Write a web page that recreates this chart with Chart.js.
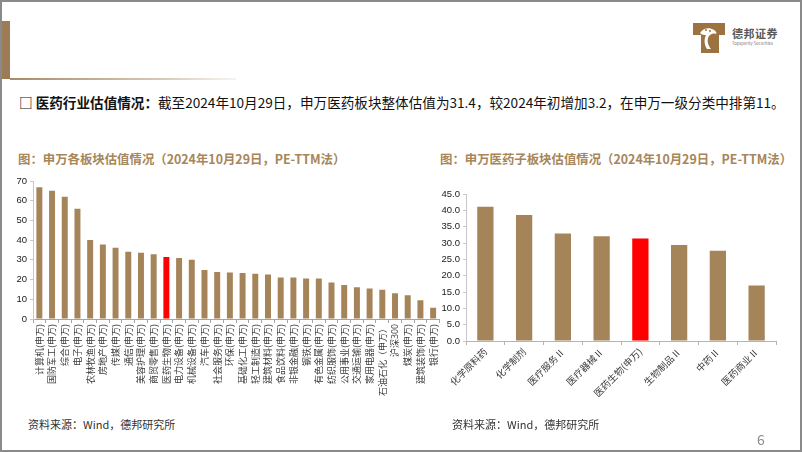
<!DOCTYPE html>
<html>
<head>
<meta charset="utf-8">
<script src="https://cdn.jsdelivr.net/npm/chart.js@4/dist/chart.umd.min.js"></script>
<style>
    body { margin: 0; background: #fff; font-family: "Noto Sans CJK SC", "Liberation Sans", sans-serif; }
    #slide { position: relative; width: 802px; height: 452px; box-sizing: border-box; border: 2px solid #8a8a8a; overflow: hidden; }
    .abs { position: absolute; }
    #side-bar { left: 0; top: 19px; width: 8px; height: 58px; background: #9c7c56; }
    #head-line { left: 8px; top: 76px; width: 226px; height: 2px; background: linear-gradient(to right, #a88a66, #d9ccbb 70%, #f7f4f0); }
    #brand { left: 730px; top: 23px; font-size: 11px; font-weight: bold; color: #595959; letter-spacing: 0.5px; }
    #brand-en { left: 730px; top: 38px; font-size: 6px; color: #777; transform: scale(0.7); transform-origin: left top; white-space: nowrap; }
    #summary { left: 17px; top: 90px; font-size: 13.6px; color: #111; white-space: nowrap; }
    #summary b { font-weight: bold; }
    .title { top: 148px; font-size: 12.4px; font-weight: bold; color: #a6865a; white-space: nowrap; }
    .source { top: 414px; font-size: 11px; color: #333; white-space: nowrap; }
    #page-no { left: 755px; top: 427px; font-size: 14px; color: #8c8c8c; }
    canvas { position: absolute; }
</style>
</head>
<body>
<div id="slide">
    <div class="abs" id="side-bar"></div>
    <div class="abs" id="head-line"></div>
    <svg class="abs" style="left:690px;top:20px" width="34" height="32" viewBox="0 0 34 32">
        <path d="M1 1 H33 V13 H27 V31 H9 V13 H1 Z" fill="#9c7340"/>
        <path d="M8 11 C11 6 17 5 22 8 C24 9 25 11 24 12 C21 11 19 12 17 14 C15 17 15 22 19 27 L15 27 C12 22 12 17 14 13 C12 13 10 13 8 11 Z" fill="#fff"/>
        <circle cx="5" cy="17" r="1.3" fill="#fff"/>
        <circle cx="14" cy="8" r="1" fill="#9c7340"/>
        <circle cx="18" cy="9" r="1" fill="#9c7340"/>
    </svg>
    <div class="abs" id="brand">德邦证券</div>
    <div class="abs" id="brand-en">Topsperity Securities</div>
    <div class="abs" id="summary"><b>□ 医药行业估值情况：</b>截至2024年10月29日，申万医药板块整体估值为31.4，较2024年初增加3.2，在申万一级分类中排第11。</div>
    <div class="abs title" style="left:16px">图：申万各板块估值情况（2024年10月29日，PE-TTM法）</div>
    <div class="abs title" style="left:438px">图：申万医药子板块估值情况（2024年10月29日，PE-TTM法）</div>
    <canvas id="left-chart" width="445" height="226" style="left:-2px;top:168px"></canvas>
    <canvas id="right-chart" width="372" height="220" style="left:428px;top:178px"></canvas>
    <div class="abs source" style="left:26px">资料来源：Wind，德邦研究所</div>
    <div class="abs source" style="left:450px">资料来源：Wind，德邦研究所</div>
    <div class="abs" id="page-no">6</div>
</div>
<script>
var sectorLabels = ['计算机(申万)', '国防军工(申万)', '综合(申万)', '电子(申万)', '农林牧渔(申万)', '房地产(申万)', '传媒(申万)', '通信(申万)',
    '美容护理(申万)', '商贸零售(申万)', '医药生物(申万)', '电力设备(申万)', '机械设备(申万)', '汽车(申万)', '社会服务(申万)', '环保(申万)',
    '基础化工(申万)', '轻工制造(申万)', '建筑材料(申万)', '食品饮料(申万)', '非银金融(申万)', '钢铁(申万)', '有色金属(申万)', '纺织服饰(申万)',
    '公用事业(申万)', '交通运输(申万)', '家用电器(申万)', '石油石化（申万）', '沪深300', '煤炭(申万)', '建筑装饰(申万)', '银行(申万)'];
var sectorPE = [66.8, 65.1, 62.0, 55.9, 40.1, 37.8, 36.1, 34.1, 33.6, 32.8, 31.4, 31.0, 30.1, 24.8, 23.8, 23.6, 23.3, 23.0, 22.6,
    21.0, 21.0, 20.6, 20.5, 18.5, 17.3, 16.1, 15.5, 14.8, 13.0, 12.0, 9.5, 5.7];
var sectorTicks = [0, 10, 20, 30, 40, 50, 60, 70];

var subLabels = ['化学原料药', '化学制剂', '医疗服务Ⅱ', '医疗器械Ⅱ', '医药生物(申万)', '生物制品Ⅱ', '中药Ⅱ', '医药商业Ⅱ'];
var subPE = [41.1, 38.6, 32.9, 32.1, 31.4, 29.4, 27.6, 17.0];
var subTicks = [0, 5, 10, 15, 20, 25, 30, 35, 40, 45];

var highlight = '医药生物(申万)';
var BROWN = '#a5845a';
var RED = '#ff0000';

var barColors = (labels) => labels.map((l) => l === highlight ? RED : BROWN);

var MakeChart = (id, labels, values, ticks, opt) => {
    var ctx = document.getElementById(id).getContext('2d');
    return new Chart(ctx, {
        type: 'bar',
        data: {
            labels: labels,
            datasets: [{
                data: values,
                backgroundColor: barColors(labels),
                barPercentage: opt.barPct,
                categoryPercentage: 1
            }]
        },
        options: {
            responsive: false,
            animation: false,
            layout: { padding: opt.padding },
            plugins: { legend: { display: false }, tooltip: { enabled: false } },
            scales: {
                x: {
                    grid: { drawOnChartArea: false, tickLength: 4, color: opt.axisColor },
                    border: { display: true, color: opt.axisColor },
                    ticks: {
                        autoSkip: false,
                        minRotation: opt.rotation,
                        maxRotation: opt.rotation,
                        padding: 1,
                        color: '#3a3a3a',
                        font: { family: '"Noto Sans CJK SC"', size: opt.xFont }
                    },
                    afterFit: (scale) => { scale.height = opt.xHeight; }
                },
                y: {
                    min: 0,
                    max: ticks[ticks.length - 1],
                    afterBuildTicks: (scale) => { scale.ticks = ticks.map((v) => ({ value: v })); },
                    grid: { drawOnChartArea: false, tickLength: 3, color: '#c8c8c8' },
                    border: { display: true, color: '#c8c8c8' },
                    ticks: {
                        padding: 3,
                        color: '#1a1a1a',
                        font: { family: '"Liberation Sans"', size: 9.5 },
                        callback: (v) => opt.decimals ? Number(v).toFixed(1) : v
                    },
                    afterFit: (scale) => { scale.width = opt.yWidth; }
                }
            }
        }
    });
};

MakeChart('left-chart', sectorLabels, sectorPE, sectorTicks, {
    barPct: 0.47, rotation: 90, xFont: 9, xHeight: 77, yWidth: 33,
    padding: { top: 11, right: 5, left: 0, bottom: 0 }, axisColor: '#9aa6b6', decimals: false
});
MakeChart('right-chart', subLabels, subPE, subTicks, {
    barPct: 0.42, rotation: 45, xFont: 9.5, xHeight: 59, yWidth: 36,
    padding: { top: 14, right: 26, left: 0, bottom: 0 }, axisColor: '#b4b4b4', decimals: true
});
</script>
</body>
</html>
